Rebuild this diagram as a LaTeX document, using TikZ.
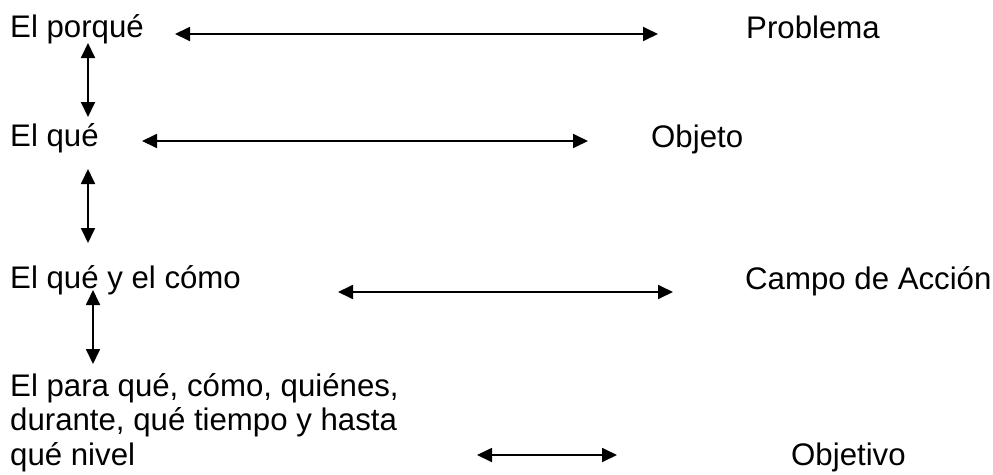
\documentclass[tikz,border=0pt]{standalone}
\usepackage{fontspec}
\setmainfont{Liberation Sans}
\usetikzlibrary{arrows.meta}

\begin{document}
\begin{tikzpicture}[x=1pt, y=-1pt,
                    nodes={inner sep=0, anchor=base west, font=\fontsize{31.2}{34.5}\selectfont},
                    link/.style={{Triangle[length=15pt,width=14pt]}-{Triangle[length=15pt,width=14pt]}, line width=1.8pt}]
                \useasboundingbox (0,0) rectangle (993,474);

                \node (porque)   at (10,37)    {El porqué};
                \node (problema) at (746,38)   {Problema};
                \node (que)      at (10,146.5) {El qué};
                \node (objeto)   at (651,147)  {Objeto};
                \node (quecomo)  at (10,288.5) {El qué y el cómo};
                \node (campo)    at (745,289)  {Campo de Acción};
                \node (para) [align=left] at (10,465) {El para qué, cómo, quiénes,\\durante, qué tiempo y hasta\\qué nivel};
                \node (objetivo) at (791,465.5) {Objetivo};

                \coordinate (h1a) at (175,34);  \coordinate (h1b) at (658,34);
                \coordinate (h2a) at (142,141); \coordinate (h2b) at (588,141);
                \coordinate (h3a) at (338,292); \coordinate (h3b) at (673,292);
                \coordinate (h4a) at (477,455); \coordinate (h4b) at (617,455);
                \draw [link] (h1a) -- (h1b);
                \draw [link] (h2a) -- (h2b);
                \draw [link] (h3a) -- (h3b);
                \draw [link] (h4a) -- (h4b);

                \coordinate (v1a) at (88,43);  \coordinate (v1b) at (88,117);
                \coordinate (v2a) at (88,169); \coordinate (v2b) at (88,243);
                \coordinate (v3a) at (93,290); \coordinate (v3b) at (93,364);
                \draw [link] (v1a) -- (v1b);
                \draw [link] (v2a) -- (v2b);
                \draw [link] (v3a) -- (v3b);
            \end{tikzpicture}
\end{document}
